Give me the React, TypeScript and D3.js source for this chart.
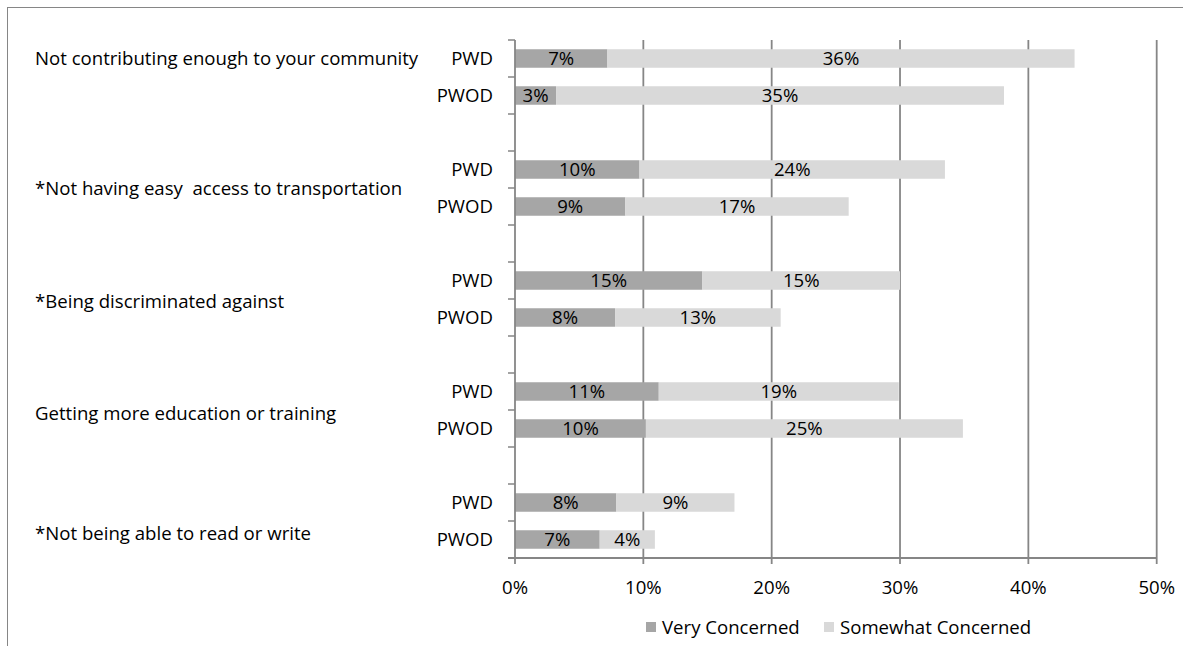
import { scaleBand, scaleLinear, range } from "d3";

// categories
const concerns = [
  "Not contributing enough to your community",
  "*Not having easy  access to transportation",
  "*Being discriminated against",
  "Getting more education or training",
  "*Not being able to read or write",
];
const populations = ["PWD", "PWOD"];

// values in percent
const veryPWD = [7.2, 9.7, 14.6, 11.2, 7.9];
const veryPWOD = [3.2, 8.6, 7.8, 10.2, 6.6];
const somewhatPWD = [36.4, 23.8, 15.4, 18.7, 9.2];
const somewhatPWOD = [34.9, 17.4, 12.9, 24.7, 4.3];

const seriesNames = ["Very Concerned", "Somewhat Concerned"];
const xTicks = [0, 10, 20, 30, 40, 50];

const W = 1183;
const H = 646;
const FONT = "'Open Sans', sans-serif";
const FS = 18.6;
const colors = ["#a6a6a6", "#d9d9d9"];
const gridColor = "#868686";

export default function App() {
  // one slot per bar, plus a blank slot between concern groups
  const slots: string[] = [];
  concerns.forEach((_, i) => {
    populations.forEach(p => slots.push(`${i}-${p}`));
    if (i < concerns.length - 1) slots.push(`${i}-gap`);
  });

  const x = scaleLinear().domain([0, 50]).range([515, 1156.7]);
  const y = scaleBand<string>().domain(slots).range([40, 558]).paddingInner(0.5).paddingOuter(0.25);
  const step = y.step();
  const top = 40, bottom = 558;

  const rows = concerns.flatMap((c, i) => [
    { key: `${i}-PWD`, pop: "PWD", vals: [veryPWD[i], somewhatPWD[i]] },
    { key: `${i}-PWOD`, pop: "PWOD", vals: [veryPWOD[i], somewhatPWOD[i]] },
  ]);

  // excel places the group labels a bit unevenly
  const labelShift = [-19, 0, 2, 3, 12];

  return (
    <svg width={W} height={H} style={{ position: "absolute", left: 0, top: 0, background: "#fff" }} fontFamily={FONT}>
      <rect x={7.5} y={7.5} width={1300} height={800} fill="#fff" stroke={gridColor} strokeWidth={1} />

      {/* gridlines */}
      {xTicks.slice(1).map(t => (
        <line key={t} x1={x(t)} x2={x(t)} y1={top} y2={bottom} stroke={gridColor} strokeWidth={1.8} />
      ))}

      {/* bars */}
      {rows.map(r => {
        let acc = 0;
        return (
          <g key={r.key}>
            {r.vals.map((v, si) => {
              const x0 = x(acc);
              acc += v;
              const x1 = x(acc);
              const cy = (y(r.key) as number) + y.bandwidth() / 2;
              return (
                <g key={si}>
                  <rect x={x0} y={y(r.key)} width={x1 - x0} height={y.bandwidth()} fill={colors[si]} />
                  <text x={(x0 + x1) / 2} y={cy} dy="0.35em" textAnchor="middle" fontSize={FS} fill="#000">
                    {Math.round(v)}%
                  </text>
                </g>
              );
            })}
          </g>
        );
      })}

      {/* y axis */}
      <line x1={x(0)} x2={x(0)} y1={top} y2={bottom} stroke={gridColor} strokeWidth={1.8} />
      {range(slots.length + 1).map(k => (
        <line key={k} x1={x(0) - 7} x2={x(0)} y1={top + k * step} y2={top + k * step} stroke={gridColor} strokeWidth={1.5} />
      ))}
      {rows.map(r => (
        <text key={r.key} x={493} y={(y(r.key) as number) + y.bandwidth() / 2} dy="0.35em" textAnchor="end" fontSize={FS} fill="#000">
          {r.pop}
        </text>
      ))}
      {concerns.map((c, i) => {
        const a = (y(`${i}-PWD`) as number) + y.bandwidth() / 2;
        const b = (y(`${i}-PWOD`) as number) + y.bandwidth() / 2;
        return (
          <text key={c} x={35} y={(a + b) / 2 + labelShift[i]} dy="0.35em" fontSize={FS} fill="#000" style={{ whiteSpace: "pre" }}>
            {c}
          </text>
        );
      })}

      {/* x axis */}
      <line x1={x(0) - 7} x2={x(50)} y1={bottom} y2={bottom} stroke={gridColor} strokeWidth={1.8} />
      {xTicks.map(t => (
        <g key={t}>
          <line x1={x(t)} x2={x(t)} y1={bottom} y2={bottom + 6} stroke={gridColor} strokeWidth={1.8} />
          <text x={x(t)} y={587} dy="0.35em" textAnchor="middle" fontSize={FS} fill="#000">
            {t}%
          </text>
        </g>
      ))}

      {/* legend */}
      {seriesNames.map((s, i) => {
        const lx = [646, 824][i];
        return (
          <g key={s}>
            <rect x={lx} y={622} width={10} height={10} fill={colors[i]} />
            <text x={lx + 16} y={627} dy="0.35em" fontSize={FS} fill="#000">
              {s}
            </text>
          </g>
        );
      })}
    </svg>
  );
}
